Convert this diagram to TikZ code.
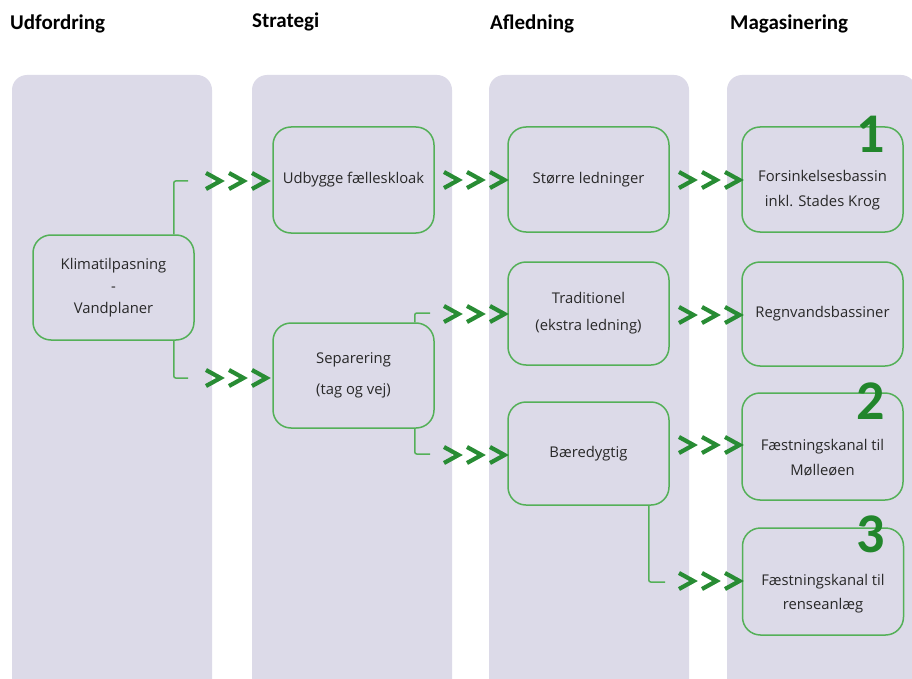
\documentclass[tikz,border=0pt]{standalone}
\usepackage{fontspec}
\setmainfont{Open Sans}
\newfontfamily\headfont{Carlito}
\definecolor{lav}{RGB}{220,218,232}
\definecolor{grn}{RGB}{84,176,88}
\definecolor{chevgrn}{RGB}{40,140,52}
\definecolor{numgrn}{RGB}{34,134,44}
\definecolor{txt}{RGB}{40,40,40}
\tikzset{
  colbox/.style={fill=lav, rounded corners=15pt},
  head/.style={anchor=base west, inner sep=0pt, font=\headfont\bfseries\fontsize{21}{24}\selectfont, text=black},
  box/.style={draw=grn, line width=1.5pt, fill=lav, rounded corners=18pt, minimum width=161pt, align=center, text=txt, inner sep=0pt, font=\fontsize{14.8}{26}\selectfont},
  boxtext/.style={align=center, text=txt, inner sep=0pt, font=\fontsize{14.8}{25}\selectfont},
  num/.style={font=\headfont\bfseries\fontsize{56}{56}\selectfont, text=numgrn, inner sep=0pt},
  bracket/.style={draw=grn, line width=1.5pt, rounded corners=2pt},
  chevline/.style={draw=chevgrn, line width=4.2pt, miter limit=10},
  chevs/.pic={\foreach \i in {0,23,46}{\draw[chevline] (\i,-8) -- ({\i+14.5},0) -- (\i,8);}}
}
\begin{document}
\begin{tikzpicture}[x=1pt,y=-1pt]
\useasboundingbox (0,0) rectangle (912,679);
\fill[white] (0,0) rectangle (912,679);
\clip (0,0) rectangle (912,679);
% columns
\fill[colbox] (12,75) rectangle (212,700);
\fill[colbox] (252,75) rectangle (452,700);
\fill[colbox] (489,75) rectangle (689,700);
\fill[colbox] (727,75) rectangle (916,700);
% headers
\node[head] (h1) at (10,30) {Udfordring};
\node[head] (h2) at (252,28) {Strategi};
\node[head] (h3) at (490,30) {Afledning};
\node[head] (h4) at (730,30) {Magasinering};
% boxes
\node[box, minimum height=105pt, font=\fontsize{14.8}{22}\selectfont] (klim) at (113.5,287.5) {Klimatilpasning\\-\\Vandplaner};
\node[box, minimum height=106pt] (udb) at (353.5,180) {Udbygge fælleskloak};
\node[box, minimum height=105pt, font=\fontsize{14.8}{31}\selectfont] (sep) at (353.5,375.5) {Separering\\(tag og vej)};
\node[box, minimum height=105pt] (stor) at (588.5,179.5) {Større ledninger};
\node[box, minimum height=103pt, font=\fontsize{14.8}{27}\selectfont] (trad) at (588.5,313.5) {Traditionel\\(ekstra ledning)};
\node[box, minimum height=103pt] (baer) at (588.5,453.5) {Bæredygtig};
\node[box, minimum height=105pt] (fors) at (822.5,179.5) {};
\node[boxtext] (forst) at (822.5,190.5) {Forsinkelsesbassin\\inkl. Stades Krog};
\node[box, minimum height=104pt] (regn) at (822.5,314) {Regnvandsbassiner};
\node[box, minimum height=107pt] (moll) at (822.5,446.5) {};
\node[boxtext] (mollt) at (822.5,458) {Fæstningskanal til\\Mølleøen};
\node[box, minimum height=107pt] (rens) at (823,581.5) {};
\node[boxtext, font=\fontsize{14.8}{24}\selectfont] (renst) at (823,593.5) {Fæstningskanal til\\renseanlæg};
% numbers
\node[num] (n1) at (871,134) {1};
\node[num] (n2) at (871,401) {2};
\node[num] (n3) at (871,534) {3};
% chevron groups
\coordinate (a1) at (206,181);
\coordinate (a2) at (206,378);
\coordinate (b1) at (444,180);
\coordinate (b2) at (444,314);
\coordinate (b3) at (444,455);
\coordinate (c1) at (679,180);
\coordinate (c2) at (679,315);
\coordinate (c3) at (679,445);
\coordinate (c4) at (679,581);
\foreach \c in {a1,a2,b1,b2,b3,c1,c2,c3,c4}{\pic at (\c) {chevs};}
% bracket ends
\coordinate (ea1) at (188,181);
\coordinate (ea2) at (188,378);
\coordinate (eb2) at (430,313);
\coordinate (eb3) at (430,454);
\coordinate (ec4) at (665,582);
\draw[bracket] ([xshift=-21pt]klim.north east) |- (ea1);
\draw[bracket] ([xshift=-21pt]klim.south east) |- (ea2);
\draw[bracket] ([xshift=-20pt]sep.north east) |- (eb2);
\draw[bracket] ([xshift=-20pt]sep.south east) |- (eb3);
\draw[bracket] ([xshift=-21pt]baer.south east) |- (ec4);
\end{tikzpicture}
\end{document}
